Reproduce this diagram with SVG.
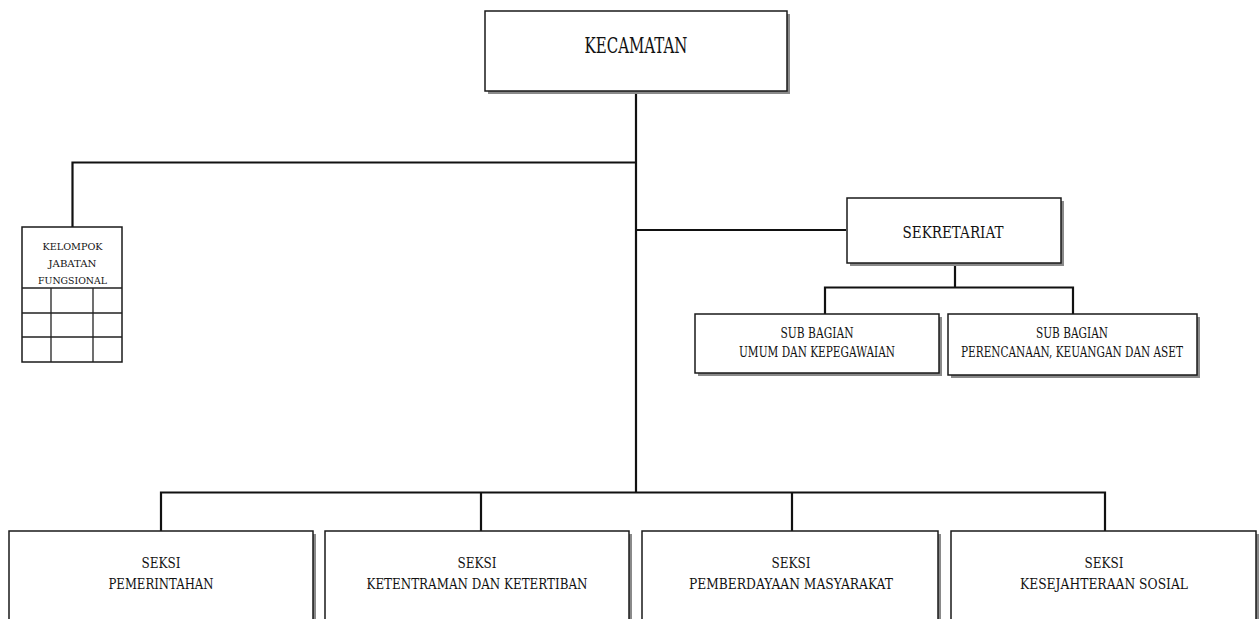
<svg xmlns="http://www.w3.org/2000/svg" width="1259" height="619" viewBox="0 0 1259 619">
<style>
.sh{fill:#8a8a8a;}
.bx{fill:#fff;stroke:#1a1a1a;stroke-width:1.5;}
.ln{fill:none;stroke:#111;stroke-width:2.2;}
.gl{fill:none;stroke:#222;stroke-width:1.3;}
text{font-family:"DejaVu Serif","Liberation Serif",serif;fill:#111;text-anchor:middle;}
</style>
<rect width="1259" height="619" fill="#fff"/>
<g id="connectors">
<path class="ln" d="M636 91 V492"/>
<path class="ln" d="M72.5 227 V162.5 H636"/>
<path class="ln" d="M636 230 H846"/>
<path class="ln" d="M955 263 V287.5 M825 314 V287.5 H1073 V314"/>
<path class="ln" d="M161 531 V492.5 H1105 V531 M481 492.5 V531 M792 492.5 V531"/>
</g>
<g id="kecamatan">
<rect class="sh" x="488" y="14" width="302" height="80"/>
<rect class="bx" x="485" y="11" width="302" height="80"/>
<text x="636" y="53" font-size="22" textLength="103" lengthAdjust="spacingAndGlyphs">KECAMATAN</text>
</g>
<g id="kelompok">
<rect class="bx" x="22" y="227" width="100" height="135"/>
<path class="gl" d="M22 288 H122 M22 313 H122 M22 337 H122 M51 288 V362 M93 288 V362"/>
<text x="72.5" y="250" font-size="10" textLength="60" lengthAdjust="spacingAndGlyphs">KELOMPOK</text>
<text x="72.5" y="267" font-size="10" textLength="48" lengthAdjust="spacingAndGlyphs">JABATAN</text>
<text x="72.5" y="284" font-size="10" textLength="69" lengthAdjust="spacingAndGlyphs">FUNGSIONAL</text>
</g>
<g id="sekretariat">
<rect class="sh" x="850" y="201" width="214" height="65"/>
<rect class="bx" x="847" y="198" width="214" height="65"/>
<text x="953" y="238" font-size="16.5" textLength="101" lengthAdjust="spacingAndGlyphs">SEKRETARIAT</text>
</g>
<g id="subbag-umum">
<rect class="sh" x="698" y="317" width="244" height="59"/>
<rect class="bx" x="695" y="314" width="244" height="59"/>
<text x="817" y="338" font-size="14" textLength="73" lengthAdjust="spacingAndGlyphs">SUB BAGIAN</text>
<text x="817" y="357" font-size="14" textLength="156" lengthAdjust="spacingAndGlyphs">UMUM DAN KEPEGAWAIAN</text>
</g>
<g id="subbag-perencanaan">
<rect class="sh" x="951" y="317" width="249" height="61"/>
<rect class="bx" x="948" y="314" width="249" height="61"/>
<text x="1072" y="338" font-size="14" textLength="72" lengthAdjust="spacingAndGlyphs">SUB BAGIAN</text>
<text x="1072" y="357" font-size="14" textLength="222" lengthAdjust="spacingAndGlyphs">PERENCANAAN, KEUANGAN DAN ASET</text>
</g>
<g id="seksi-pemerintahan">
<rect class="sh" x="12" y="534" width="304" height="100"/>
<rect class="bx" x="9" y="531" width="304" height="100"/>
<text x="161" y="568" font-size="15" textLength="39" lengthAdjust="spacingAndGlyphs">SEKSI</text>
<text x="161" y="589" font-size="15" textLength="105" lengthAdjust="spacingAndGlyphs">PEMERINTAHAN</text>
</g>
<g id="seksi-ketentraman">
<rect class="sh" x="328" y="534" width="304" height="100"/>
<rect class="bx" x="325" y="531" width="304" height="100"/>
<text x="477" y="568" font-size="15" textLength="39" lengthAdjust="spacingAndGlyphs">SEKSI</text>
<text x="477" y="589" font-size="15" textLength="221" lengthAdjust="spacingAndGlyphs">KETENTRAMAN DAN KETERTIBAN</text>
</g>
<g id="seksi-pemberdayaan">
<rect class="sh" x="645" y="534" width="296" height="100"/>
<rect class="bx" x="642" y="531" width="296" height="100"/>
<text x="791" y="568" font-size="15" textLength="39" lengthAdjust="spacingAndGlyphs">SEKSI</text>
<text x="791" y="589" font-size="15" textLength="204" lengthAdjust="spacingAndGlyphs">PEMBERDAYAAN MASYARAKAT</text>
</g>
<g id="seksi-kesejahteraan">
<rect class="sh" x="954" y="534" width="305" height="100"/>
<rect class="bx" x="951" y="531" width="305" height="100"/>
<text x="1104" y="568" font-size="15" textLength="39" lengthAdjust="spacingAndGlyphs">SEKSI</text>
<text x="1104" y="589" font-size="15" textLength="168" lengthAdjust="spacingAndGlyphs">KESEJAHTERAAN SOSIAL</text>
</g>
</svg>
